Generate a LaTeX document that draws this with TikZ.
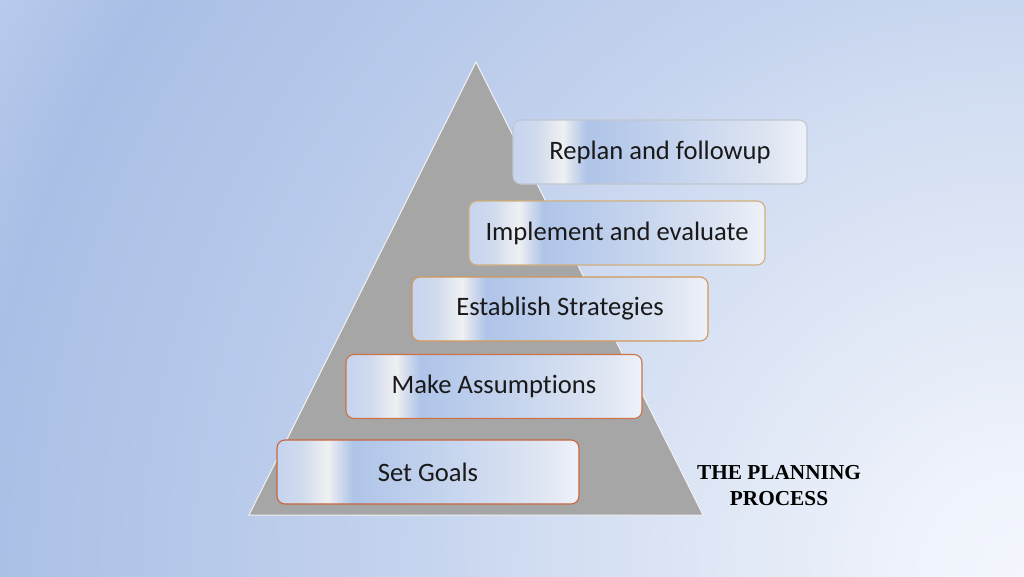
\documentclass[tikz,border=0pt]{standalone}
\usepackage{fontspec}
\setmainfont[Ligatures={NoCommon}]{Carlito}
\newfontfamily\titlefont{Liberation Serif}
\definecolor{tri}{HTML}{A6A6A6}
\definecolor{bgA}{HTML}{F3F6FC}
\definecolor{bgB}{HTML}{EEF2FB}
\definecolor{bgC}{HTML}{E0E8F6}
\definecolor{bgD}{HTML}{D0DCF2}
\definecolor{bgE}{HTML}{C6D4EE}
\definecolor{bgF}{HTML}{B8CAEA}
\definecolor{bgG}{HTML}{AABFE6}
\definecolor{bgH}{HTML}{B8CBEC}
\definecolor{bxA}{HTML}{C6D4EE}
\definecolor{bxB}{HTML}{D0DAEE}
\definecolor{bxB2}{HTML}{E6EAF0}
\definecolor{bxC}{HTML}{EEF0F2}
\definecolor{bxD}{HTML}{D6DEEE}
\definecolor{bxE}{HTML}{AFC4E8}
\definecolor{bxF}{HTML}{B4C8EA}
\definecolor{bxG}{HTML}{C8D6EE}
\definecolor{bxH}{HTML}{DCE4F2}
\definecolor{bxI}{HTML}{EEF1F8}
\definecolor{edA}{HTML}{C8643C}
\definecolor{edB}{HTML}{CC7448}
\definecolor{edC}{HTML}{D09858}
\definecolor{edD}{HTML}{D2AE7C}
\definecolor{edE}{HTML}{C2C6CE}
\pgfdeclareradialshading{bgshade}{\pgfpoint{0bp}{0bp}}{color(0bp)=(bgA); color(2.5bp)=(bgB); color(6bp)=(bgC); color(10bp)=(bgD); color(12bp)=(bgE); color(16bp)=(bgF); color(21bp)=(bgG); color(23.5bp)=(bgH); color(50bp)=(bgH)}
\pgfdeclarehorizontalshading{boxshade}{100bp}{color(0bp)=(bxA); color(25bp)=(bxA); color(29bp)=(bxB); color(32bp)=(bxB2); color(33.5bp)=(bxC); color(35bp)=(bxD); color(37.5bp)=(bxE); color(41bp)=(bxF); color(55bp)=(bxG); color(67.5bp)=(bxH); color(75bp)=(bxI); color(100bp)=(bxI)}
\tikzset{
  stepbox/.style={shade, shading=boxshade, rounded corners=8pt, line width=1.1pt,
    minimum width=#1, minimum height=64pt, inner sep=0pt,
    font=\fontsize{26.6}{30}\selectfont, text=black!90},
  tritle/.style={font=\titlefont\bfseries\fontsize{21.3}{26}\selectfont, align=center, text=black}
}
\begin{document}
\begin{tikzpicture}[x=1pt,y=-1pt]
\useasboundingbox (0,0) rectangle (1024,576);
\begin{scope}
  \clip (0,0) rectangle (1024,576);
  \shade[shading=bgshade] (1024,576) circle (1250);
\end{scope}
\coordinate (apex) at (476,62);
\coordinate (bl) at (249,515);
\coordinate (br) at (703,515);
\filldraw[fill=tri, draw=white!85!tri, line width=1pt] (apex) -- (br) -- (bl) -- cycle;
\node[stepbox=302pt, draw=edA] (goals) at (428,472) {Set Goals};
\node[stepbox=296pt, draw=edB] (assume) at (494,386.5) {Make Assumptions};
\node[stepbox=296pt, draw=edC] (strat) at (560,309) {Establish Strategies};
\node[stepbox=296pt, draw=edD] (impl) at (617,233) {Implement and evaluate};
\node[stepbox=294pt, draw=edE] (replan) at (660,152) {Replan and followup};
\node[tritle] (title) at (779,486) {THE PLANNING\\PROCESS};
\end{tikzpicture}
\end{document}
